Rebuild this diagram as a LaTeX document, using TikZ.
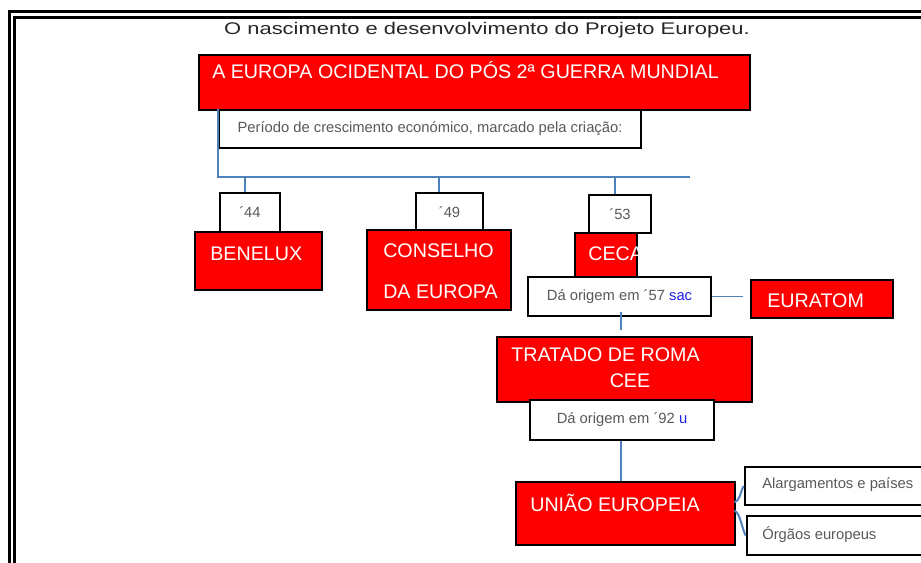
\documentclass[tikz,border=0pt]{standalone}
\usepackage{fontspec}
\setmainfont{Liberation Sans}
\usetikzlibrary{positioning,fit,calc}
\definecolor{boxred}{HTML}{FF0000}
\definecolor{lineblue}{HTML}{4F81BD}
\definecolor{textgrey}{HTML}{595959}
\definecolor{titlegrey}{HTML}{262626}
\definecolor{linkblue}{HTML}{1F1FE6}

\begin{document}
\begin{tikzpicture}[
  x=0.025cm,y=-0.025cm,
  redbox/.style={rectangle,draw=black,line width=2pt,fill=boxred,inner sep=0pt},
  whitebox/.style={rectangle,draw=black,line width=2pt,fill=white,inner sep=0pt},
  boxtext/.style={inner sep=0pt,text=textgrey,font=\fontsize{10.5}{12}\selectfont},
  redlbl/.style={anchor=west,inner sep=0pt,text=white,font=\fontsize{14}{16}\selectfont},
  link/.style={lineblue,line width=1.4pt},
]
\useasboundingbox (0,0) rectangle (921,562);
\clip (0,0) rectangle (921,562);

% Double frame round the page
\draw[line width=2.3pt] (9.5,11.3) rectangle (960,600);
\draw[line width=2.3pt] (14.3,17.2) rectangle (955,595);

% Title
\node[text=titlegrey,font=\fontsize{12}{14}\selectfont] (title) at (487,30.5)
  {\scalebox{1.3}[1]{O nascimento e desenvolvimento do Projeto Europeu.}};

% Top block
\node[redbox,fit={(199,55) (750,110)}] (europa) {};
\node[redlbl] (europalbl) at (212,70) {A EUROPA OCIDENTAL DO PÓS 2ª GUERRA MUNDIAL};
\node[whitebox,fit={(219,110) (641,148)}] (periodo) {};
\node[boxtext] (periodolbl) at (periodo.center) {Período de crescimento económico, marcado pela criação:};

% Bus line with the three drops
\coordinate (busend) at (690,177);
\draw[link] (periodo.north west) |- (busend);

% Years
\node[whitebox,fit={(220,193) (280,232)}] (y44) {};
\node[boxtext] (y44lbl) at (y44.center) {´44};
\node[whitebox,fit={(416,193) (483,232)}] (y49) {};
\node[boxtext] (y49lbl) at (y49.center) {´49};
\node[whitebox,fit={(589,195) (651,233)}] (y53) {};
\node[boxtext] (y53lbl) at (y53.center) {´53};
\draw[link] ([shift={(-5,0)}]y44.north |- busend) -- ([shift={(-5,0)}]y44.north);
\draw[link] ([shift={(-10.5,0)}]y49.north |- busend) -- ([shift={(-10.5,0)}]y49.north);
\draw[link] ([shift={(-5,0)}]y53.north |- busend) -- ([shift={(-5,0)}]y53.north);

% Organisations of the first years
\node[redbox,fit={(195,232) (322,290)}] (benelux) {};
\node[redlbl] (beneluxlbl) at (210,254) {BENELUX};
\node[redbox,fit={(367,230) (511,310)}] (conselho) {};
\node[redlbl] (conselholbl) at (383,251) {CONSELHO};
\node[redlbl] (europalbl2) at (383,292) {DA EUROPA};
\node[redbox,fit={(575,233) (637,277)}] (ceca) {};
\node[redlbl] (cecalbl) at (588,254) {CECA};

% 1957
\node[whitebox,fit={(528,277) (711,316)}] (orig57) {};
\node[boxtext] (orig57lbl) at (orig57.center) {Dá origem em ´57 {\color{linkblue}sac}};
\node[redbox,fit={(751,280) (893,318)}] (euratom) {};
\node[redlbl] (euratomlbl) at (767,301) {EURATOM};
\draw[link,shorten >=5] (orig57.east) -- (orig57.east -| euratom.west);

% Treaty of Rome
\node[redbox,fit={(497,337) (752,402)}] (tratado) {};
\node[redlbl] (tratadolbl) at (511,355) {TRATADO DE ROMA};
\node[redlbl,anchor=center] (ceelbl) at (630,381) {CEE};
\draw[link,shorten >=4] ([shift={(1.5,-5)}]orig57.south) -- ([shift={(1.5,0)}]orig57.south |- tratado.north);

% 1992
\node[whitebox,fit={(530,400) (714,440)}] (orig92) {};
\node[boxtext] (orig92lbl) at (orig92.center) {Dá origem em ´92 {\color{linkblue}u}};

% European Union and its two branches
\node[redbox,fit={(516,482) (735,545)}] (uniao) {};
\node[redlbl] (uniaolbl) at (530,503) {UNIÃO EUROPEIA};
\draw[link] ([shift={(-1,0)}]orig92.south) -- ([shift={(-1,0)}]orig92.south |- uniao.north);
\node[whitebox,fit={(745,467) (950,505)}] (alarg) {};
\node[boxtext,anchor=west] (alarglbl) at (762,485) {Alargamentos e países};
\node[whitebox,fit={(747,516) (950,555)}] (orgaos) {};
\node[boxtext,anchor=west] (orgaoslbl) at (762,535) {Órgãos europeus};
\draw[link] ([shift={(-2,-11)}]uniao.east) .. controls +(6,-3) and +(-4,8) .. (alarg.west);
\draw[link] ([shift={(-2,-3)}]uniao.east) .. controls +(6,3) and +(-4,-8) .. (orgaos.west);
\end{tikzpicture}
\end{document}
